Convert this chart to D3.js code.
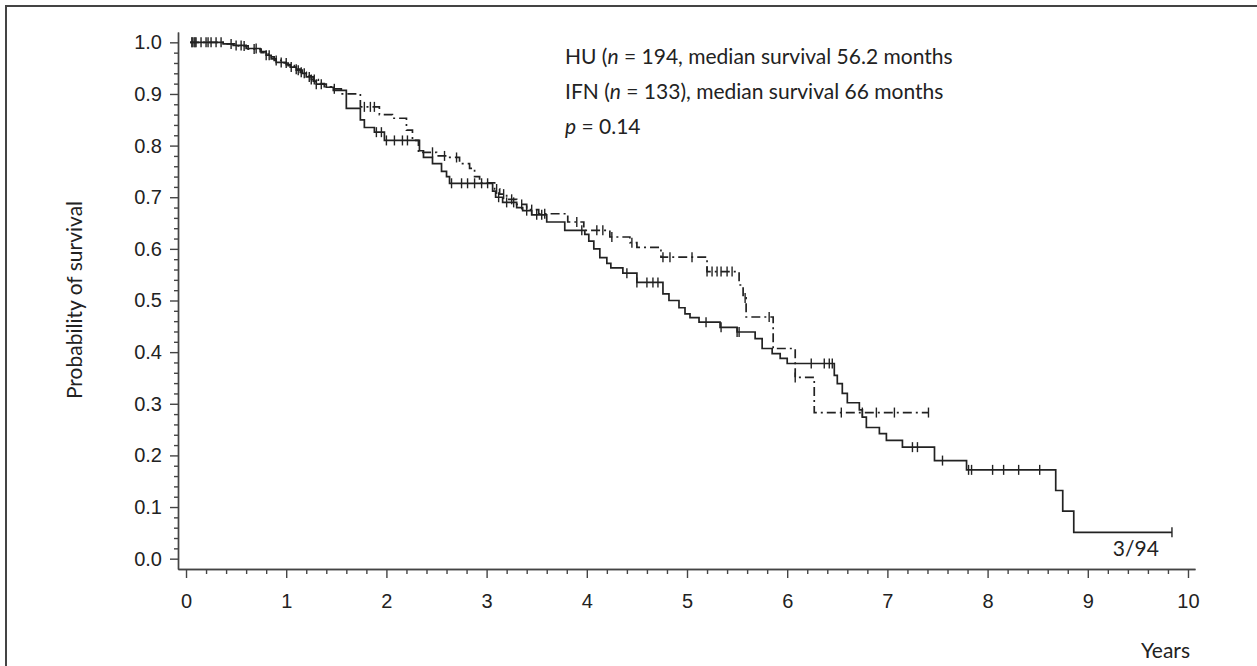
<!DOCTYPE html>
<html>
<head>
<meta charset="utf-8">
<script src="https://cdn.jsdelivr.net/npm/d3@7"></script>
<style>
  body { margin: 0; background: #fff; }
  svg { display: block; font-family: Lato, "Open Sans", sans-serif; }
  .axis path, .axis line { stroke: #444; stroke-width: 1.4; }
  .axis text { fill: #222; font-size: 20px; }
</style>
</head>
<body>
<svg id="chart"></svg>
<script>
// Kaplan-Meier steps: time (years) and survival after the step
const huTimes = [0.04, 0.37, 0.47, 0.6, 0.74, 0.8, 0.85, 0.9, 1.0, 1.04, 1.1, 1.16, 1.2, 1.27, 1.3, 1.4, 1.47,
  1.6, 1.74, 1.78, 1.88, 1.98, 2.33, 2.37, 2.46, 2.55, 2.6, 2.63, 3.06, 3.09, 3.16, 3.3, 3.36, 3.45, 3.6,
  3.78, 3.98, 4.02, 4.07, 4.13, 4.2, 4.24, 4.36, 4.5, 4.76, 4.82, 4.92, 4.98, 5.03, 5.12, 5.33, 5.5, 5.68,
  5.75, 5.85, 5.93, 6.0, 6.47, 6.5, 6.55, 6.6, 6.72, 6.75, 6.79, 6.92, 6.99, 7.15, 7.47, 7.79, 8.68, 8.75, 8.86];
const huSurv = [1.0, 0.997, 0.994, 0.988, 0.982, 0.975, 0.968, 0.961, 0.957, 0.952, 0.946, 0.94, 0.933, 0.925, 0.919, 0.913, 0.907,
  0.872, 0.85, 0.835, 0.826, 0.81, 0.79, 0.777, 0.765, 0.75, 0.74, 0.727, 0.712, 0.70, 0.69, 0.68, 0.674, 0.666, 0.652,
  0.636, 0.628, 0.615, 0.6, 0.583, 0.572, 0.563, 0.553, 0.535, 0.513, 0.5, 0.486, 0.474, 0.467, 0.458, 0.448, 0.439, 0.426,
  0.407, 0.397, 0.388, 0.378, 0.355, 0.339, 0.32, 0.302, 0.288, 0.274, 0.254, 0.242, 0.229, 0.216, 0.19, 0.172, 0.132, 0.092, 0.051];
const huEnd = 9.84;
const huCensored = [0.06, 0.08, 0.1, 0.2, 0.22, 0.3, 0.5, 0.55, 0.7, 0.8, 0.83, 0.95, 1.05, 1.12, 1.18, 1.23, 1.3, 1.35,
  1.9, 1.95, 2.0, 2.08, 2.16, 2.21, 2.65, 2.75, 2.81, 2.88, 2.95, 3.01, 3.12, 3.2, 3.27, 3.4, 3.5, 3.55, 3.95,
  4.4, 4.5, 4.6, 4.66, 4.71, 5.19, 5.34, 5.5, 5.52, 6.24, 6.37, 6.42, 6.45, 7.25, 7.3, 7.55, 7.81, 7.84,
  8.05, 8.16, 8.31, 8.52, 9.84];

const ifnTimes = [0.04, 0.4, 0.5, 0.62, 0.75, 0.82, 0.88, 0.95, 1.02, 1.08, 1.14, 1.2, 1.25, 1.32, 1.38, 1.45, 1.55,
  1.74, 1.93, 2.06, 2.2, 2.26, 2.32, 2.5, 2.6, 2.73, 2.83, 2.88, 2.93, 3.08, 3.13, 3.2, 3.3, 3.4, 3.52, 3.81,
  3.97, 4.23, 4.43, 4.5, 4.74, 5.2, 5.52, 5.56, 5.59, 5.86, 6.08, 6.27];
const ifnSurv = [1.0, 0.997, 0.993, 0.987, 0.98, 0.972, 0.965, 0.96, 0.955, 0.948, 0.942, 0.935, 0.928, 0.92, 0.914, 0.91, 0.9,
  0.875, 0.86, 0.853, 0.83, 0.81, 0.787, 0.78, 0.777, 0.765, 0.756, 0.74, 0.728, 0.716, 0.706, 0.696, 0.686, 0.676, 0.668, 0.652,
  0.636, 0.623, 0.612, 0.603, 0.584, 0.556, 0.53, 0.505, 0.468, 0.407, 0.351, 0.283];
const ifnEnd = 7.41;
const ifnCensored = [0.06, 0.09, 0.15, 0.25, 0.35, 0.45, 0.58, 0.68, 0.9, 1.0, 1.1, 1.15, 1.25, 1.28, 1.48, 1.78, 1.84, 1.88,
  2.46, 2.58, 2.7, 3.1, 3.17, 3.25, 3.35, 3.45, 3.58, 3.9, 4.1, 4.16, 4.25, 4.45, 4.76, 4.83, 5.05, 5.2, 5.25,
  5.3, 5.34, 5.4, 5.45, 5.58, 5.82, 6.08, 6.54, 6.75, 6.89, 7.07, 7.41];

const xTickValues = [0, 1, 2, 3, 4, 5, 6, 7, 8, 9, 10];
const yTickValues = [0, 0.1, 0.2, 0.3, 0.4, 0.5, 0.6, 0.7, 0.8, 0.9, 1.0];
const legendLines = ['HU (n = 194, median survival 56.2 months', 'IFN (n = 133), median survival 66 months', 'p = 0.14'];

class SurvivalChart {

  constructor(_config) {
    this.config = {
      parentElement: _config.parentElement,
      width: 1257,
      height: 666,
      xRange: [178, 1195],
      yRange: [569, 32]
    };
    this.initVis();
  }

  initVis() {
    let vis = this;

    vis.svg = d3.select(vis.config.parentElement)
        .attr('width', vis.config.width)
        .attr('height', vis.config.height);

    // frame of the figure, only top and left edges are inside the picture
    vis.svg.append('rect')
        .attr('x', 6).attr('y', 6)
        .attr('width', 1300).attr('height', 700)
        .attr('fill', 'none')
        .attr('stroke', '#444')
        .attr('stroke-width', 2);

    vis.xScale = d3.scaleLinear().domain([-0.08, 10.07]).range(vis.config.xRange);
    vis.yScale = d3.scaleLinear().domain([-0.02, 1.02]).range(vis.config.yRange);

    vis.xAxis = d3.axisBottom(vis.xScale)
        .tickValues(xTickValues)
        .tickFormat(d3.format('d'))
        .tickSize(9)
        .tickSizeOuter(0)
        .tickPadding(16);

    vis.xMinor = d3.axisBottom(vis.xScale)
        .tickValues(d3.range(0, 51).map(i => i / 5).filter(d => Math.abs(d - Math.round(d)) > 1e-6))
        .tickFormat('')
        .tickSize(5)
        .tickSizeOuter(0);

    vis.yAxis = d3.axisLeft(vis.yScale)
        .tickValues(yTickValues)
        .tickFormat(d3.format('.1f'))
        .tickSize(8)
        .tickSizeOuter(0)
        .tickPadding(8);

    vis.yMinor = d3.axisLeft(vis.yScale)
        .tickValues(d3.range(0, 51).map(i => i / 50).filter(d => Math.abs(d * 10 - Math.round(d * 10)) > 1e-6))
        .tickFormat('')
        .tickSize(4)
        .tickSizeOuter(0);

    vis.line = d3.line()
        .x(d => vis.xScale(d[0]))
        .y(d => vis.yScale(d[1]))
        .curve(d3.curveStepAfter);
  }

  renderVis() {
    let vis = this;
    const yBase = vis.config.yRange[0];
    const xBase = vis.config.xRange[0];

    vis.svg.append('g').attr('class', 'axis x-axis')
        .attr('transform', `translate(0,${yBase})`).call(vis.xAxis);
    vis.svg.append('g').attr('class', 'axis x-minor')
        .attr('transform', `translate(0,${yBase})`).call(vis.xMinor);
    vis.svg.append('g').attr('class', 'axis y-axis')
        .attr('transform', `translate(${xBase},0)`).call(vis.yAxis);
    vis.svg.append('g').attr('class', 'axis y-minor')
        .attr('transform', `translate(${xBase},0)`).call(vis.yMinor);

    vis.drawCurve(huTimes, huSurv, huEnd, huCensored, null);
    vis.drawCurve(ifnTimes, ifnSurv, ifnEnd, ifnCensored, '9,4,2,4');

    // axis titles
    vis.svg.append('text')
        .attr('transform', `translate(82,300) rotate(-90)`)
        .attr('text-anchor', 'middle')
        .attr('font-size', 21)
        .attr('fill', '#222')
        .text('Probability of survival');

    vis.svg.append('text')
        .attr('x', 1190).attr('y', 658)
        .attr('text-anchor', 'end')
        .attr('font-size', 21)
        .attr('fill', '#222')
        .text('Years');

    vis.svg.append('text')
        .attr('x', vis.xScale(9.48)).attr('y', 556)
        .attr('text-anchor', 'middle')
        .attr('font-size', 21)
        .attr('fill', '#222')
        .text('3/94');

    // legend block, n and p in italics
    const legend = vis.svg.append('g').attr('font-size', 21).attr('fill', '#222');
    const t1 = legend.append('text').attr('x', 565).attr('y', 64);
    t1.append('tspan').text('HU (');
    t1.append('tspan').attr('font-style', 'italic').text('n');
    t1.append('tspan').text(legendLines[0].slice(5));
    const t2 = legend.append('text').attr('x', 565).attr('y', 99);
    t2.append('tspan').text('IFN (');
    t2.append('tspan').attr('font-style', 'italic').text('n');
    t2.append('tspan').text(legendLines[1].slice(6));
    const t3 = legend.append('text').attr('x', 565).attr('y', 134);
    t3.append('tspan').attr('font-style', 'italic').text('p');
    t3.append('tspan').text(legendLines[2].slice(1));
  }

  drawCurve(times, surv, end, censored, dash) {
    let vis = this;
    const pts = times.map((t, i) => [t, surv[i]]);
    pts.push([end, surv[surv.length - 1]]);

    const survAt = t => {
      const i = d3.bisectRight(times, t) - 1;
      return surv[Math.max(i, 0)];
    };

    const g = vis.svg.append('g');
    g.append('path')
        .datum(pts)
        .attr('d', vis.line)
        .attr('fill', 'none')
        .attr('stroke', '#222')
        .attr('stroke-width', 1.7)
        .attr('stroke-dasharray', dash);

    g.selectAll('.cens')
      .data(censored)
      .join('line')
        .attr('class', 'cens')
        .attr('x1', d => vis.xScale(d))
        .attr('x2', d => vis.xScale(d))
        .attr('y1', d => vis.yScale(survAt(d)) - 5)
        .attr('y2', d => vis.yScale(survAt(d)) + 5)
        .attr('stroke', '#222')
        .attr('stroke-width', 1.4);
  }
}

const chart = new SurvivalChart({ parentElement: '#chart' });
chart.renderVis();
</script>
</body>
</html>
